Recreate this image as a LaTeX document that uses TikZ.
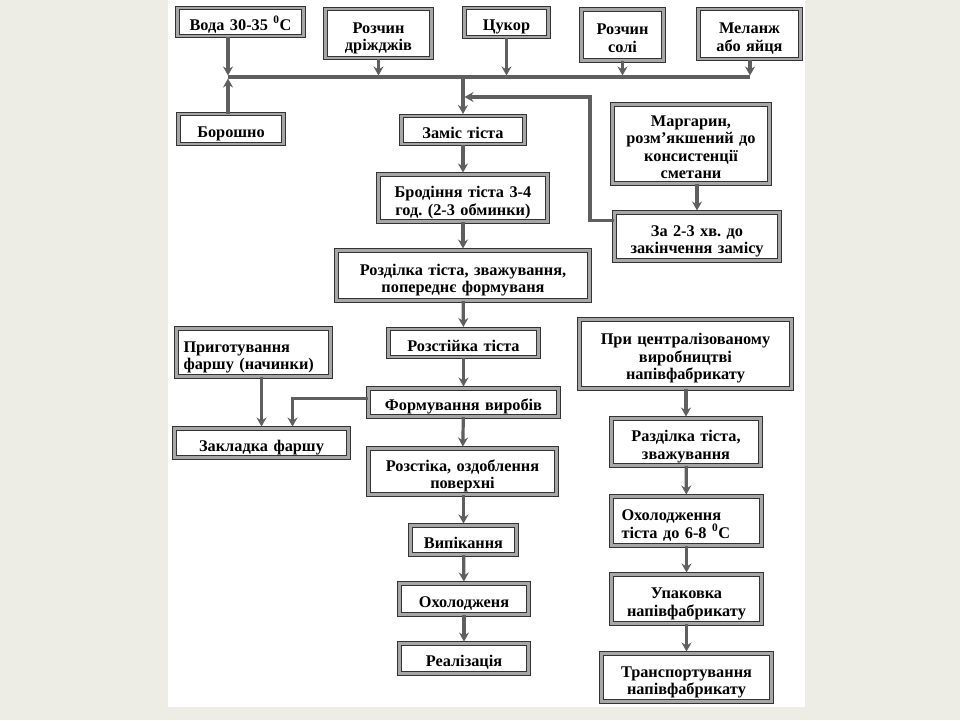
\documentclass[tikz,border=0pt]{standalone}
\usepackage{fontspec}
\setmainfont{Liberation Serif}
\usetikzlibrary{arrows.meta}
\definecolor{bgpage}{RGB}{237,236,229}
\definecolor{linegray}{RGB}{95,95,95}
\frenchspacing
\begin{document}
\begin{tikzpicture}[x=1pt,y=-1pt,
  bx/.style={draw=black!80, double=gray!70, line width=1pt, double distance=2.4pt,
    fill=white, align=center, inner sep=0pt,
    font=\bfseries\frenchspacing\fontsize{16.3}{17.5}\selectfont,
    execute at begin node={\rule{0pt}{20.5pt}},
    execute at end node={\rule[-4pt]{0pt}{4pt}}},
  bxl/.style={bx, align=left},
  conn/.style={draw=linegray, line width=3.2pt},
  arr/.style={conn, -{Stealth[length=9pt,width=10pt,inset=3pt]}, shorten >=1.5pt}
]
\useasboundingbox (0,0) rectangle (960,720);
\fill[bgpage] (0,0) rectangle (960,720);
\fill[white] (168,0) rectangle (805,707);

% top row
\node[bx, minimum width=126, text width=122, minimum height=28] (voda) at (240.5,22) {Вода 30-35 \textsuperscript{0}C};
\node[bx, minimum width=106, text width=102, minimum height=49] (drizh) at (378.5,33.5) {Розчин\\дріжджів};
\node[bx, minimum width=84, text width=80, minimum height=29] (tsukor) at (506.5,22.5) {Цукор};
\node[bx, minimum width=82, text width=78, minimum height=51] (sil) at (622.5,35) {Розчин\\солі};
\node[bx, minimum width=102, text width=98, minimum height=50] (melanzh) at (749.5,34) {Меланж\\або яйця};

\node[bx, minimum width=105, text width=101, minimum height=30] (borosh) at (231,129) {Борошно};
\node[bx, minimum width=123, text width=119, minimum height=28] (zamis) at (463,130) {Заміс тіста};
\node[bx, minimum width=157, text width=153, minimum height=79] (marg) at (691,144) {Маргарин,\\розм’якшений до\\консистенції\\сметани};
\node[bx, minimum width=165, text width=161, minimum height=48] (za) at (697,236.5) {За 2-3 хв. до\\закінчення замісу};
\node[bx, minimum width=169, text width=165, minimum height=47] (brod) at (463,198) {Бродіння тіста 3-4\\год. (2-3 обминки)};
\node[bx, minimum width=253, text width=249, minimum height=50] (rozdil) at (463,275.5) {Розділка тіста, зважування,\\попереднє формуваня};
\node[bx, minimum width=150, text width=146, minimum height=28] (rozst) at (463.5,343) {Розстійка тіста};
\node[bxl, minimum width=154, text width=140, minimum height=48] (pryh) at (253.5,352.5) {Приготування\\фаршу (начинки)};
\node[bx, minimum width=190, text width=186, minimum height=28] (form) at (463.5,402.5) {Формування виробів};
\node[bx, minimum width=174, text width=170, minimum height=29] (zakl) at (261.5,443) {Закладка фаршу};
\node[bx, minimum width=188, text width=184, minimum height=46] (rozst2) at (462.5,471.5) {Розстіка, оздоблення\\поверхні};
\node[bx, minimum width=106, text width=102, minimum height=29] (vypik) at (463.5,540) {Випікання};
\node[bx, minimum width=129, text width=125, minimum height=31] (okhol) at (464,599) {Охолодженя};
\node[bx, minimum width=129, text width=125, minimum height=30] (real) at (464,658.5) {Реалізація};

% right column
\node[bx, minimum width=212, text width=208, minimum height=69] (pry) at (685.5,354) {При централізованому\\виробництві\\напівфабрикату};
\node[bx, minimum width=149, text width=145, minimum height=47] (rozdil2) at (686,442) {Разділка тіста,\\зважування};
\node[bxl, minimum width=150, text width=130, minimum height=49] (okhol2) at (686.5,521) {Охолодження\\тіста до 6-8 \textsuperscript{0}C};
\node[bx, minimum width=150, text width=146, minimum height=49] (upak) at (686.5,599) {Упаковка\\напівфабрикату};
\node[bx, minimum width=170, text width=166, minimum height=48] (trans) at (686.5,677.5) {Транспортування\\напівфабрикату};

% junctions
\coordinate (j1) at (228,77);
\coordinate (j2) at (750,77);
\coordinate (k) at (590,97);

% bus
\draw[conn] (j1) -- (j2);
\draw[arr] (voda.south -| j1) -- (j1);
\draw[arr] (borosh.north -| j1) -- (j1);
\draw[arr] (drizh.south) -- (drizh.south |- j1);
\draw[arr] (tsukor.south) -- (tsukor.south |- j1);
\draw[arr] (sil.south) -- (sil.south |- j1);
\draw[arr] (melanzh.south -| j2) -- (j2);
\draw[arr] (zamis.north |- j1) -- (zamis.north);

% margarine loop
\draw[arr] (marg.south -| za.north) -- (za.north);
\draw[arr] ([yshift=16pt]za.west) -| (k) -- (k -| zamis.north);

% main chain
\draw[arr] (zamis) -- (brod);
\draw[arr] (brod) -- (rozdil);
\draw[arr] (rozdil) -- (rozst);
\draw[arr] (rozst) -- (form);
\draw[arr] (form) -- (rozst2);
\draw[arr] (rozst2.south -| vypik.north) -- (vypik.north);
\draw[arr] (vypik) -- (okhol);
\draw[arr] (okhol) -- (real);

% filling
\draw[arr] (pryh.south -| zakl.north) -- (zakl.north);
\draw[arr] ([yshift=4pt]form.west) -| ([xshift=31pt]zakl.north);

% right chain
\draw[arr] (pry.south -| rozdil2.north) -- (rozdil2.north);
\draw[arr] (rozdil2) -- (okhol2);
\draw[arr] (okhol2) -- (upak);
\draw[arr] (upak) -- (trans);
\end{tikzpicture}
\end{document}
